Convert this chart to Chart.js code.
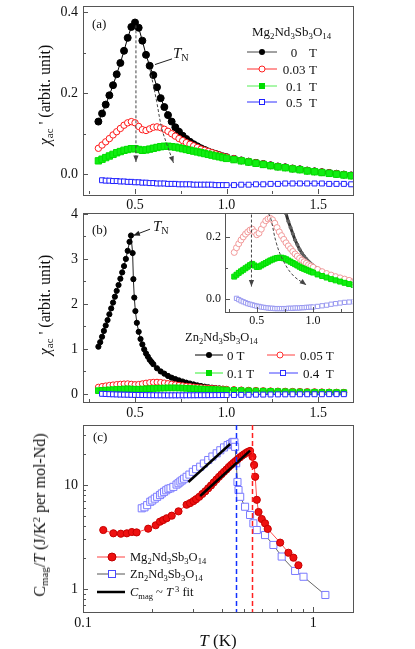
<!DOCTYPE html>
<html>
<head>
<meta charset="utf-8">
<script src="https://cdn.jsdelivr.net/npm/chart.js@4.4.1/dist/chart.umd.min.js"></script>
<style>
  body { margin: 0; background: #fff; overflow: hidden; }
  #fig { position: relative; width: 415px; height: 649px; }
  canvas { position: absolute; }
  .t { position: absolute; font-family: 'Liberation Serif', 'Times New Roman', serif; color: #111; white-space: nowrap; line-height: 1; z-index: 5; }
  .t sub { font-size: 0.68em; vertical-align: -0.3em; line-height: 0; }
  .t sup { font-size: 0.68em; vertical-align: 0.5em; line-height: 0; }
  .yt { transform: translate(-50%, -50%) rotate(-90deg); }
  .row { display: flex; align-items: center; height: 12px; }
  .row svg { display: block; }
</style>
</head>
<body>
<div id="fig">
  <canvas id="chartA" style="left:0;top:0" width="415" height="215"></canvas>
  <canvas id="chartB" style="left:0;top:200px" width="415" height="225"></canvas>
  <canvas id="chartInset" style="left:190px;top:205px" width="167" height="125"></canvas>
  <canvas id="chartC" style="left:0;top:415px" width="415" height="234"></canvas>

  <!-- panel (a) texts -->
  <div class="t" style="left:92px;top:17px;font-size:13px">(a)</div>
  <div class="t yt" style="left:45px;top:95px;font-size:16px"><i>χ</i><sub>ac</sub> ' (arbit. unit)</div>
  <div class="t" style="left:173px;top:46px;font-size:15px"><i>T</i><sub>N</sub></div>
  <div class="t" style="left:252px;top:25px;font-size:13px">Mg<sub>2</sub>Nd<sub>3</sub>Sb<sub>3</sub>O<sub>14</sub></div>
  <div class="t row" style="left:245px;top:46px;font-size:13px">
    <svg width="34" height="12"><line x1="2" y1="6" x2="32" y2="6" stroke="#444"/><circle cx="17" cy="6" r="3" fill="#000"/></svg>
    <span style="display:inline-block;width:26px;text-align:center;margin-left:2px">0</span><span style="margin-left:2px">T</span></div>
  <div class="t row" style="left:245px;top:63px;font-size:13px">
    <svg width="34" height="12"><line x1="2" y1="6" x2="32" y2="6" stroke="#ff3030"/><circle cx="17" cy="6" r="3" fill="#fff" stroke="#ff2020"/></svg>
    <span style="display:inline-block;width:26px;text-align:center;margin-left:2px">0.03</span><span style="margin-left:2px">T</span></div>
  <div class="t row" style="left:245px;top:80px;font-size:13px">
    <svg width="34" height="12"><line x1="2" y1="6" x2="32" y2="6" stroke="#55ee55"/><rect x="14" y="3" width="6" height="6" fill="#00dd00"/></svg>
    <span style="display:inline-block;width:26px;text-align:center;margin-left:2px">0.1</span><span style="margin-left:2px">T</span></div>
  <div class="t row" style="left:245px;top:96px;font-size:13px">
    <svg width="34" height="12"><line x1="2" y1="6" x2="32" y2="6" stroke="#3030ff"/><rect x="14.5" y="3.5" width="5" height="5" fill="#fff" stroke="#2020ff"/></svg>
    <span style="display:inline-block;width:26px;text-align:center;margin-left:2px">0.5</span><span style="margin-left:2px">T</span></div>

  <!-- panel (b) texts -->
  <div class="t" style="left:92px;top:223px;font-size:13px">(b)</div>
  <div class="t yt" style="left:45px;top:305px;font-size:16px"><i>χ</i><sub>ac</sub> ' (arbit. unit)</div>
  <div class="t" style="left:153px;top:219px;font-size:15px"><i>T</i><sub>N</sub></div>
  <div class="t" style="left:185px;top:331px;font-size:12.5px">Zn<sub>2</sub>Nd<sub>3</sub>Sb<sub>3</sub>O<sub>14</sub></div>
  <div class="t row" style="left:193px;top:349px;font-size:13px">
    <svg width="32" height="12"><line x1="2" y1="6" x2="30" y2="6" stroke="#000"/><circle cx="16" cy="6" r="3" fill="#000"/></svg>
    <span style="margin-left:2px">0 T</span></div>
  <div class="t row" style="left:265px;top:349px;font-size:13px">
    <svg width="32" height="12"><line x1="2" y1="6" x2="30" y2="6" stroke="#ff4040"/><circle cx="15" cy="6" r="3" fill="#fff" stroke="#ff3030"/></svg>
    <span style="margin-left:3px">0.05 T</span></div>
  <div class="t row" style="left:193px;top:367px;font-size:13px">
    <svg width="32" height="12"><line x1="2" y1="6" x2="30" y2="6" stroke="#33ee33"/><rect x="13" y="3" width="6" height="6" fill="#00dd00"/></svg>
    <span style="margin-left:2px">0.1 T</span></div>
  <div class="t row" style="left:267px;top:367px;font-size:13px">
    <svg width="32" height="12"><line x1="2" y1="6" x2="31" y2="6" stroke="#4040ff"/><rect x="13.5" y="3.5" width="5" height="5" fill="#fff" stroke="#3030ff"/></svg>
    <span style="margin-left:4px">0.4&nbsp;&nbsp;T</span></div>

  <!-- panel (c) texts -->
  <div class="t" style="left:93px;top:430px;font-size:13px">(c)</div>
  <div class="t yt" style="left:40px;top:515px;font-size:16px">C<sub>mag</sub>/<i>T</i> (J/K<sup>2</sup> per mol-Nd)</div>
  <div class="t" style="left:218px;top:640px;font-size:17px;transform:translate(-50%,-50%)"><i>T</i> (K)</div>
  <div class="t row" style="left:96px;top:551px;font-size:12.5px">
    <svg width="30" height="12"><line x1="1" y1="6" x2="29" y2="6" stroke="#ff4040"/><circle cx="16" cy="6" r="4" fill="#ee1010" stroke="#c00000"/></svg>
    <span style="margin-left:4px">Mg<sub>2</sub>Nd<sub>3</sub>Sb<sub>3</sub>O<sub>14</sub></span></div>
  <div class="t row" style="left:96px;top:568px;font-size:12.5px">
    <svg width="30" height="12"><line x1="1" y1="6" x2="29" y2="6" stroke="#555"/><rect x="12.5" y="2.5" width="7" height="7" fill="#fff" stroke="#4a4aff"/></svg>
    <span style="margin-left:4px">Zn<sub>2</sub>Nd<sub>3</sub>Sb<sub>3</sub>O<sub>14</sub></span></div>
  <div class="t row" style="left:96px;top:586px;font-size:12.5px">
    <svg width="30" height="12"><line x1="1" y1="6" x2="29" y2="6" stroke="#000" stroke-width="2.5"/></svg>
    <span style="margin-left:4px"><i>C</i><sub>mag</sub> ~ <i>T</i><sup>&nbsp;3</sup> fit</span></div>
</div>

<script>
// ==========================================
// 1. DATA
// ==========================================

// (a) Mg2Nd3Sb3O14, chi_ac' vs T
const tempA = [0.30,0.32,0.34,0.36,0.38,0.40,0.42,0.44,0.46,0.48,0.50,0.52,0.54,0.56,0.58,0.60,0.62,0.64,0.66,0.68,0.70,0.72,0.74,0.76,0.78,0.80,0.82,0.84,0.86,0.88,0.90,0.92,0.94,0.96,0.98,1.00,
  1.04,1.08,1.12,1.16,1.20,1.24,1.28,1.32,1.36,1.40,1.44,1.48,1.52,1.56,1.60,1.64,1.68];
const chiA_0T = [0.130,0.150,0.172,0.195,0.220,0.247,0.275,0.305,0.337,0.364,0.375,0.362,0.330,0.295,0.268,0.245,0.215,0.188,0.166,0.146,0.130,0.116,0.105,0.095,0.087,0.080,0.074,0.069,0.064,0.060,0.056,0.053,0.050,0.047,0.044,0.042,
  0.038,0.034,0.031,0.028,0.025,0.022,0.019,0.017,0.014,0.012,0.009,0.007,0.005,0.003,0.001,-0.001,-0.003];
const chiA_003T = [0.064,0.072,0.080,0.088,0.097,0.105,0.113,0.121,0.127,0.130,0.127,0.118,0.110,0.108,0.112,0.116,0.117,0.115,0.111,0.106,0.100,0.094,0.088,0.083,0.078,0.074,0.070,0.066,0.062,0.059,0.056,0.053,0.050,0.047,0.044,0.042,
  0.038,0.034,0.031,0.028,0.025,0.022,0.019,0.017,0.014,0.012,0.009,0.007,0.005,0.003,0.001,-0.001,-0.003];
const chiA_01T = [0.033,0.037,0.041,0.045,0.049,0.053,0.056,0.059,0.061,0.063,0.063,0.061,0.059,0.060,0.062,0.064,0.066,0.068,0.069,0.069,0.068,0.067,0.065,0.063,0.061,0.059,0.057,0.055,0.053,0.051,0.049,0.047,0.045,0.043,0.041,0.039,
  0.036,0.033,0.030,0.027,0.024,0.021,0.018,0.016,0.013,0.011,0.008,0.006,0.004,0.002,0.000,-0.002,-0.004];
const tempA05 = [0.32,0.34,0.36,0.38,0.40,0.42,0.44,0.46,0.48,0.50,0.52,0.54,0.56,0.58,0.60,0.62,0.64,0.66,0.68,0.70,0.72,0.74,0.76,0.78,0.80,0.82,0.84,0.86,0.88,0.90,0.92,0.94,0.96,0.98,1.00,
  1.04,1.08,1.12,1.16,1.20,1.24,1.28,1.32,1.36,1.40,1.44,1.48,1.52,1.56,1.60,1.64,1.68];
const chiA_05T = [-0.015,-0.016,-0.016,-0.017,-0.017,-0.018,-0.018,-0.019,-0.019,-0.020,-0.020,-0.021,-0.021,-0.022,-0.022,-0.023,-0.023,-0.023,-0.024,-0.024,-0.024,-0.025,-0.025,-0.025,-0.025,-0.026,-0.026,-0.026,-0.026,-0.026,-0.026,-0.027,-0.027,-0.027,-0.027,
  -0.027,-0.026,-0.026,-0.025,-0.025,-0.024,-0.024,-0.023,-0.023,-0.023,-0.023,-0.023,-0.023,-0.024,-0.024,-0.024,-0.025];

// (b) Zn2Nd3Sb3O14, chi_ac' vs T
const tempB0 = [0.30,0.31,0.32,0.33,0.34,0.35,0.36,0.37,0.38,0.39,0.40,0.41,0.42,0.43,0.44,0.45,0.46,0.47,0.478,0.487,0.491,0.496,0.502,
  0.51,0.52,0.53,0.54,0.55,0.56,0.57,0.58,0.59,0.60,0.62,0.64,0.66,0.68,0.70,0.72,0.74,0.76,0.78,0.80,0.82,0.84,0.86,0.88,0.90,0.92,0.94,0.96,0.98,1.00,
  1.04,1.08,1.12,1.16,1.20,1.24,1.28,1.32,1.36,1.40,1.44,1.48,1.52,1.56,1.60,1.64];
const chiB_0T = [1.05,1.15,1.27,1.40,1.52,1.64,1.77,1.90,2.03,2.16,2.29,2.42,2.56,2.70,2.84,3.00,3.18,3.38,3.52,3.13,2.55,2.14,1.84,
  1.58,1.38,1.22,1.10,0.99,0.90,0.83,0.76,0.71,0.66,0.57,0.50,0.45,0.40,0.36,0.33,0.30,0.275,0.25,0.23,0.21,0.19,0.175,0.16,0.148,0.138,0.129,0.121,0.114,0.108,
  0.098,0.090,0.083,0.078,0.073,0.069,0.065,0.062,0.059,0.056,0.053,0.050,0.047,0.044,0.041,0.038];
const tempB = [0.30,0.32,0.34,0.36,0.38,0.40,0.42,0.44,0.46,0.48,0.50,0.52,0.54,0.56,0.58,0.60,0.62,0.64,0.66,0.68,0.70,0.72,0.74,0.76,0.78,0.80,0.82,0.84,0.86,0.88,0.90,0.92,0.94,0.96,0.98,1.00,
  1.04,1.08,1.12,1.16,1.20,1.24,1.28,1.32,1.36,1.40,1.44,1.48,1.52,1.56,1.60,1.64];
const chiB_005T = [0.150,0.165,0.178,0.190,0.200,0.209,0.216,0.222,0.225,0.216,0.207,0.212,0.225,0.240,0.252,0.258,0.260,0.255,0.244,0.230,0.216,0.204,0.192,0.181,0.171,0.162,0.153,0.145,0.138,0.131,0.125,0.120,0.115,0.110,0.106,0.102,
  0.095,0.088,0.082,0.077,0.072,0.068,0.064,0.060,0.057,0.054,0.051,0.048,0.045,0.042,0.039,0.036];
const chiB_01T = [0.072,0.078,0.084,0.089,0.094,0.099,0.104,0.109,0.113,0.108,0.103,0.104,0.108,0.112,0.116,0.120,0.124,0.127,0.130,0.132,0.133,0.133,0.131,0.128,0.124,0.120,0.116,0.112,0.108,0.104,0.100,0.097,0.094,0.091,0.088,0.085,
  0.079,0.074,0.069,0.064,0.060,0.056,0.052,0.048,0.045,0.042,0.039,0.036,0.034,0.032,0.030,0.028];
const tempB04 = [0.32,0.34,0.36,0.38,0.40,0.42,0.44,0.46,0.48,0.50,0.52,0.54,0.56,0.58,0.60,0.62,0.64,0.66,0.68,0.70,0.72,0.74,0.76,0.78,0.80,0.82,0.84,0.86,0.88,0.90,0.92,0.94,0.96,0.98,1.00,
  1.04,1.08,1.12,1.16,1.20,1.24,1.28,1.32,1.36,1.40,1.44,1.48,1.52,1.56,1.60,1.64];
const chiB_04T = [0.002,-0.002,-0.006,-0.009,-0.012,-0.015,-0.017,-0.019,-0.021,-0.023,-0.024,-0.026,-0.027,-0.028,-0.029,-0.030,-0.030,-0.031,-0.031,-0.031,-0.031,-0.031,-0.031,-0.030,-0.030,-0.030,-0.029,-0.029,-0.029,-0.028,-0.028,-0.027,-0.027,-0.026,-0.026,
  -0.024,-0.022,-0.020,-0.017,-0.015,-0.013,-0.011,-0.010,-0.009,-0.008,-0.008,-0.007,-0.007,-0.006,-0.006,-0.006];

// (c) C_mag/T vs T (log-log)
const tempMg = [0.1225,0.1355,0.146,0.155,0.163,0.171,0.192,0.207,0.216,0.223,0.231,0.243,0.260,0.282,0.292,0.302,0.31,0.32,0.33,0.34,0.35,0.36,0.37,0.38,0.39,0.40,0.41,0.42,0.43,0.44,0.45,0.46,0.47,0.48,0.49,0.50,0.51,0.52,0.532,
  0.545,0.554,0.560,0.569,0.579,0.598,0.618,0.635,0.719,0.781,0.821,0.863];
const cMg = [3.69,3.43,3.40,3.43,3.53,3.50,3.80,4.10,4.44,4.60,4.79,5.07,5.58,6.46,6.7,7.0,7.3,7.7,8.2,8.7,9.3,9.9,10.6,11.3,12.0,12.7,13.4,14.1,14.9,15.6,16.3,17.0,17.7,18.4,19.1,19.7,20.3,20.8,21.3,
  18.7,15.6,12.0,7.2,5.5,4.71,4.28,3.78,2.79,2.23,2.0,1.69];
const tempZn = [0.180,0.185,0.190,0.196,0.200,0.205,0.210,0.216,0.220,0.225,0.230,0.235,0.240,0.247,0.255,0.260,0.265,0.270,0.275,0.282,0.290,0.300,0.310,0.323,0.335,0.350,0.365,0.381,0.395,0.410,0.425,0.436,0.445,0.450,0.455,
  0.458,0.463,0.469,0.474,0.482,0.506,0.532,0.550,0.569,0.618,0.672,0.730,0.835,0.908,1.130];
const cZn = [5.97,6.1,6.4,6.9,7.1,7.4,7.7,8.0,8.3,8.6,8.9,9.2,9.3,9.6,10.1,10.4,10.8,11.1,11.5,12.0,12.6,13.4,14.2,15.0,16.1,17.4,18.8,20.2,21.6,23.0,24.2,24.8,25.6,26.0,25.8,
  23.3,16.2,10.7,8.95,7.7,6.18,5.15,4.28,3.69,3.3,2.65,2.05,1.49,1.31,0.875];
const fitMgT = [0.323, 0.532], fitMgC = [7.84, 21.4];
const fitZnT = [0.287, 0.436], fitZnC = [10.7, 24.8];
const tnZn = 0.463, tnMg = 0.543;

// guide arrows (data units)
const arrowVA_T = [0.505, 0.505], arrowVA_Y = [0.368, 0.03];
const arrowCA_T = [0.582, 0.600, 0.618, 0.645, 0.673, 0.710], arrowCA_Y = [0.258, 0.220, 0.180, 0.115, 0.075, 0.028];
const pointerA_T = [0.702, 0.609], pointerA_Y = [0.285, 0.271];
const pointerB_T = [0.582, 0.491], pointerB_Y = [3.66, 3.52];
const arrowVI_T = [0.453, 0.453], arrowVI_Y = [0.272, 0.04];
const arrowCI_T = [0.605, 0.624, 0.674, 0.732, 0.820, 0.940], arrowCI_Y = [0.275, 0.260, 0.180, 0.126, 0.077, 0.045];

// tick values
const xTicksChi = [0.25, 0.5, 0.75, 1.0, 1.25, 1.5], xLabelsChi = [0.5, 1.0, 1.5];
const yTicksA = [0.0, 0.1, 0.2, 0.3, 0.4], yLabelsA = [0.0, 0.2, 0.4];
const yTicksB = [0, 0.5, 1, 1.5, 2, 2.5, 3, 3.5, 4], yLabelsB = [0, 1, 2, 3, 4];
const xTicksInset = [0.25, 0.5, 0.75, 1.0, 1.25], xLabelsInset = [0.5, 1.0];
const yTicksInset = [0.0, 0.1, 0.2], yLabelsInset = [0.0, 0.2];
const xTicksC = [0.1, 0.2, 0.3, 0.4, 0.5, 0.6, 0.7, 0.8, 0.9, 1], xLabelsC = [0.1, 1];
const yTicksC = [0.7, 0.8, 0.9, 1, 2, 3, 4, 5, 6, 7, 8, 9, 10, 20, 30], yLabelsC = [1, 10];

// ==========================================
// 2. HELPERS & PLUGINS
// ==========================================
Chart.defaults.font.family = "'Liberation Serif', 'Times New Roman', serif";
Chart.defaults.font.size = 14;
Chart.defaults.color = '#111';

function pts(xs, ys) {
  return xs.map((x, i) => ({ x: x, y: ys[i] }));
}

function series(xs, ys, opts) {
  return Object.assign({
    data: pts(xs, ys),
    showLine: true,
    borderWidth: 1,
    pointBorderWidth: 1,
    pointHoverRadius: 0
  }, opts);
}

function guide(xs, ys, opts) {
  return Object.assign({
    data: pts(xs, ys),
    showLine: true,
    borderColor: '#444',
    borderWidth: 1,
    borderDash: [3, 2],
    pointRadius: 0,
    tension: 0.4
  }, opts);
}

function axis(type, min, max, tickVals, labelVals, fmt, size, pad, fontSize) {
  return {
    type: type, min: min, max: max,
    grid: { display: false, drawTicks: false },
    border: { display: false },
    ticks: {
      autoSkip: false, maxRotation: 0, padding: pad,
      font: { size: fontSize || 14 },
      callback: (v) => labelVals.includes(v) ? fmt(v) : ''
    },
    afterBuildTicks: (s) => { s.ticks = tickVals.map(v => ({ value: v })); },
    afterFit: (s) => {
      if (s.isHorizontal()) s.height = size; else s.width = size;
      s.paddingTop = 0; s.paddingBottom = 0; s.paddingLeft = 0; s.paddingRight = 0;
    }
  };
}

// box frame + inward ticks
const frameTicks = {
  id: 'frameTicks',
  afterDatasetsDraw(chart) {
    const ctx = chart.ctx, a = chart.chartArea;
    ctx.save();
    ctx.strokeStyle = '#555';
    ctx.lineWidth = 1;
    ctx.strokeRect(Math.round(a.left) + 0.5, Math.round(a.top) + 0.5, Math.round(a.right - a.left), Math.round(a.bottom - a.top));
    const sx = chart.scales.x, sy = chart.scales.y;
    ctx.beginPath();
    sx.ticks.forEach(t => {
      const p = Math.round(sx.getPixelForValue(t.value)) + 0.5;
      const len = t.label ? 5 : 3;
      ctx.moveTo(p, a.bottom); ctx.lineTo(p, a.bottom - len);
    });
    sy.ticks.forEach(t => {
      const p = Math.round(sy.getPixelForValue(t.value)) + 0.5;
      const len = t.label ? 5 : 3;
      ctx.moveTo(a.left, p); ctx.lineTo(a.left + len, p);
    });
    ctx.stroke();
    ctx.restore();
  }
};

// arrowheads on guide lines
const arrowHeads = {
  id: 'arrowHeads',
  afterDatasetsDraw(chart) {
    const ctx = chart.ctx;
    chart.data.datasets.forEach((ds, i) => {
      if (!ds.arrowHead) return;
      const el = chart.getDatasetMeta(i).data;
      const p1 = el[el.length - 2], p2 = el[el.length - 1];
      const ang = Math.atan2(p2.y - p1.y, p2.x - p1.x);
      const L = 7, w = 0.38;
      ctx.save();
      ctx.fillStyle = ds.borderColor;
      ctx.beginPath();
      ctx.moveTo(p2.x, p2.y);
      ctx.lineTo(p2.x - L * Math.cos(ang - w), p2.y - L * Math.sin(ang - w));
      ctx.lineTo(p2.x - L * Math.cos(ang + w), p2.y - L * Math.sin(ang + w));
      ctx.closePath();
      ctx.fill();
      ctx.restore();
    });
  }
};

// dashed T_N lines in (c)
const tnLines = {
  id: 'tnLines',
  afterDatasetsDraw(chart) {
    if (chart.canvas.id !== 'chartC') return;
    const ctx = chart.ctx, a = chart.chartArea, sx = chart.scales.x;
    ctx.save();
    ctx.lineWidth = 1.5;
    ctx.setLineDash([5, 3]);
    [[tnZn, '#1030ff'], [tnMg, '#ff2020']].forEach(([v, c]) => {
      const p = Math.round(sx.getPixelForValue(v)) + 0.5;
      ctx.strokeStyle = c;
      ctx.beginPath(); ctx.moveTo(p, a.top); ctx.lineTo(p, a.bottom); ctx.stroke();
    });
    ctx.restore();
  }
};

Chart.register(frameTicks, arrowHeads, tnLines);

function baseOptions(padding, scales) {
  return {
    responsive: false,
    animation: false,
    devicePixelRatio: 1,
    events: [],
    layout: { padding: padding },
    plugins: { legend: { display: false }, tooltip: { enabled: false } },
    scales: scales
  };
}

const fmt1 = v => v.toFixed(1);
const fmt0 = v => String(v);

// ==========================================
// 3. PANEL (a)
// ==========================================
new Chart(document.getElementById('chartA'), {
  type: 'scatter',
  data: {
    datasets: [
      guide(pointerA_T, pointerA_Y, { borderDash: [], borderColor: '#222', tension: 0 }),
      guide(arrowVA_T, arrowVA_Y, { arrowHead: true, tension: 0 }),
      guide(arrowCA_T, arrowCA_Y, { arrowHead: true }),
      series(tempA05, chiA_05T, { borderColor: '#2828ff', pointStyle: 'rect', pointRadius: 3.5, pointBackgroundColor: '#fff', pointBorderColor: '#2020ff' }),
      series(tempA, chiA_01T, { borderColor: '#00e000', pointStyle: 'rect', pointRadius: 4.5, pointBackgroundColor: '#11ee11', pointBorderColor: '#00dd00' }),
      series(tempA, chiA_003T, { borderColor: '#ff2020', pointStyle: 'circle', pointRadius: 3.2, pointBackgroundColor: '#fff', pointBorderColor: '#ff1a1a' }),
      series(tempA, chiA_0T, { borderColor: '#000', pointStyle: 'circle', pointRadius: 3.5, pointBackgroundColor: '#000', pointBorderColor: '#000' })
    ]
  },
  options: baseOptions({ top: 5, right: 62, left: 0, bottom: 0 }, {
    x: axis('linear', 0.216, 1.69, xTicksChi, xLabelsChi, fmt1, 21, 3),
    y: axis('linear', -0.049, 0.417, yTicksA, yLabelsA, fmt1, 83, 5)
  })
});

// ==========================================
// 4. PANEL (b) + INSET
// ==========================================
new Chart(document.getElementById('chartB'), {
  type: 'scatter',
  data: {
    datasets: [
      guide(pointerB_T, pointerB_Y, { borderDash: [], borderColor: '#222', tension: 0, arrowHead: true }),
      series(tempB04, chiB_04T, { borderColor: '#2828ff', pointStyle: 'rect', pointRadius: 3.5, pointBackgroundColor: '#fff', pointBorderColor: '#2020ff' }),
      series(tempB, chiB_01T, { borderColor: '#00e000', pointStyle: 'rect', pointRadius: 4, pointBackgroundColor: '#11ee11', pointBorderColor: '#00dd00' }),
      series(tempB, chiB_005T, { borderColor: '#ff2020', pointStyle: 'circle', pointRadius: 3, pointBackgroundColor: '#fff', pointBorderColor: '#ff1a1a' }),
      series(tempB0, chiB_0T, { borderColor: '#222', pointStyle: 'circle', pointRadius: 2.6, pointBackgroundColor: '#000', pointBorderColor: '#000' })
    ]
  },
  options: baseOptions({ top: 13, right: 62, left: 0, bottom: 0 }, {
    x: axis('linear', 0.216, 1.69, xTicksChi, xLabelsChi, fmt1, 23, 3),
    y: axis('linear', -0.18, 4.02, yTicksB, yLabelsB, fmt0, 83, 5)
  })
});

new Chart(document.getElementById('chartInset'), {
  type: 'scatter',
  data: {
    datasets: [
      guide(arrowVI_T, arrowVI_Y, { arrowHead: true, tension: 0 }),
      guide(arrowCI_T, arrowCI_Y, { arrowHead: true }),
      series(tempB04, chiB_04T, { borderColor: '#a8a8f4', pointStyle: 'rect', pointRadius: 3, pointBackgroundColor: '#fff', pointBorderColor: '#9a9af0' }),
      series(tempB, chiB_01T, { borderColor: '#00e000', pointStyle: 'rect', pointRadius: 3.5, pointBackgroundColor: '#11ee11', pointBorderColor: '#00dd00' }),
      series(tempB, chiB_005T, { borderColor: '#f7b0b0', pointStyle: 'circle', pointRadius: 3, pointBackgroundColor: '#fff', pointBorderColor: '#f29a9a' }),
      series(tempB0, chiB_0T, { borderColor: '#333', borderWidth: 3, pointStyle: 'circle', pointRadius: 1.5, pointBackgroundColor: '#666', pointBorderColor: '#666' })
    ]
  },
  options: baseOptions({ top: 8, right: 4, left: 0, bottom: 0 }, {
    x: axis('linear', 0.218, 1.35, xTicksInset, xLabelsInset, fmt1, 18, 2, 12),
    y: axis('linear', -0.042, 0.277, yTicksInset, yLabelsInset, fmt1, 35, 4, 12)
  })
});

// ==========================================
// 5. PANEL (c)
// ==========================================
new Chart(document.getElementById('chartC'), {
  type: 'scatter',
  data: {
    datasets: [
      series(fitMgT, fitMgC, { borderColor: '#000', borderWidth: 2.5, pointRadius: 0 }),
      series(fitZnT, fitZnC, { borderColor: '#000', borderWidth: 2.5, pointRadius: 0 }),
      series(tempMg, cMg, { borderColor: '#ff5050', pointStyle: 'circle', pointRadius: 3.6, pointBackgroundColor: '#ee1010', pointBorderColor: '#c80000' }),
      series(tempZn, cZn, { borderColor: '#666', pointStyle: 'rect', pointRadius: 5, pointBackgroundColor: '#fff', pointBorderColor: '#7a7aff' })
    ]
  },
  options: baseOptions({ top: 10, right: 62, left: 0, bottom: 0 }, {
    x: axis('logarithmic', 0.1, 1.49, xTicksC, xLabelsC, fmt0, 37, 3),
    y: axis('logarithmic', 0.6, 37.8, yTicksC, yLabelsC, fmt0, 83, 5)
  })
});
</script>
</body>
</html>
